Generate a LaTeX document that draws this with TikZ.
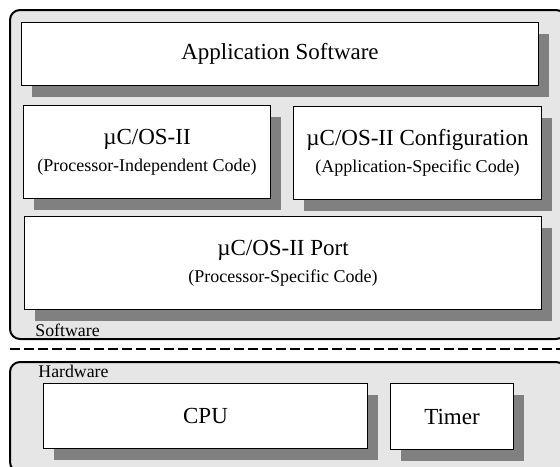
\documentclass[tikz,border=0pt]{standalone}
\usepackage{fontspec}
\setmainfont{Liberation Serif}
\usepackage{xcolor}
\usepackage{tikz}
\usetikzlibrary{shadows}

\definecolor{layergray}{HTML}{E6E6E6}
\definecolor{shadowgray}{HTML}{808080}
\newcommand{\subtext}[1]{{\fontsize{9}{11}\selectfont #1}}

\begin{document}
\begin{tikzpicture}[x=0.5pt, y=-0.5pt,
    layer/.style={draw, line width=1pt, rounded corners=5pt, fill=layergray},
    block/.style={draw, fill=white, line width=0.5pt, inner sep=0pt,
      anchor=north west, align=center, font=\fontsize{11.5}{13}\selectfont,
      drop shadow={shadow xshift=5pt, shadow yshift=-5.75pt,
        fill=shadowgray, opacity=1}},
    lbl/.style={anchor=base west, inner sep=0pt, font=\fontsize{8.9}{10}\selectfont}]
  \useasboundingbox (0,0) rectangle (560,466);
  \clip (0,0) rectangle (560,466);

  % --- software layer ---
  \draw[layer] (10,10) rectangle (566,339);
  \node[block, minimum width=258.5pt, minimum height=31.5pt] (app) at (21,22)
    {Application Software};
  \node[block, minimum width=123.5pt, minimum height=46.5pt] (core) at (23,105)
    {µC/OS-II\\[0.5pt]\subtext{(Processor-Independent Code)}};
  \node[block, minimum width=124pt, minimum height=46.5pt] (config) at (293,106)
    {µC/OS-II Configuration\\[0.5pt]\subtext{(Application-Specific Code)}};
  \node[block, minimum width=258.5pt, minimum height=46.5pt] (port) at (24,216)
    {µC/OS-II Port\\[0.5pt]\subtext{(Processor-Specific Code)}};
  \node[lbl] (swlabel) at (35,336) {Software};

  % --- separator ---
  \draw[line width=1pt, dash pattern=on 5pt off 2pt] (10,349) -- (575,349);

  % --- hardware layer ---
  \draw[layer] (10,362) rectangle (566,472);
  \node[lbl] (hwlabel) at (38,377) {Hardware};
  \node[block, minimum width=162pt, minimum height=32.5pt] (cpu) at (43,383) {CPU};
  \node[block, minimum width=61.5pt, minimum height=33pt] (timer) at (390,383) {Timer};
\end{tikzpicture}
\end{document}
